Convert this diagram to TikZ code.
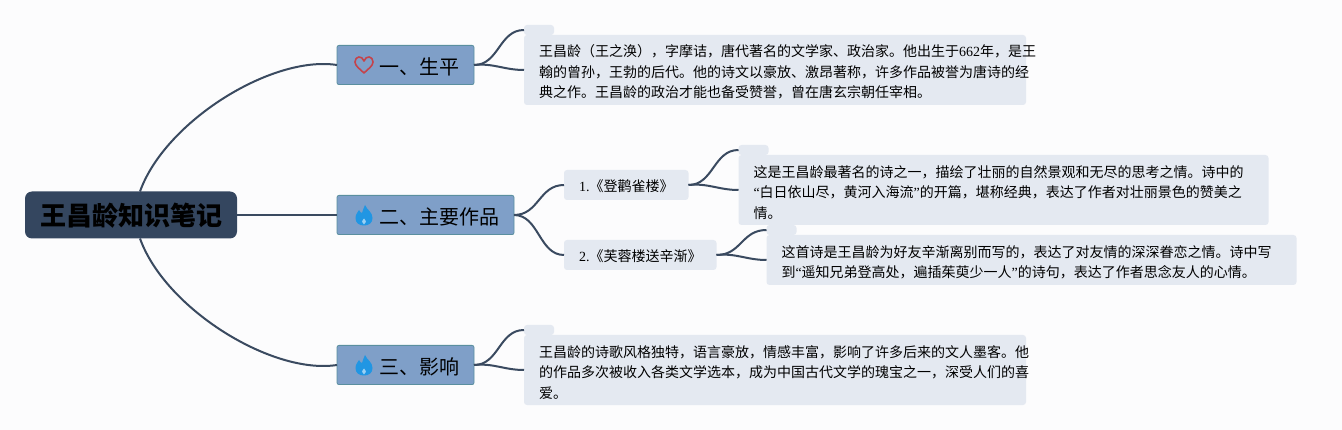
\documentclass[tikz,border=0pt]{standalone}
\usepackage{fontspec}
\setmainfont{Noto Sans CJK SC}
\newfontfamily\latfont{Liberation Serif}
\newcommand{\lat}[1]{{\latfont #1}}
\usetikzlibrary{positioning, calc}
\definecolor{pagebg}{HTML}{FCFCFD}
\definecolor{rootfill}{HTML}{34465F}
\definecolor{branchfill}{HTML}{7F9FC8}
\definecolor{branchedge}{HTML}{5A8F9F}
\definecolor{notefill}{HTML}{E4E9F1}
\definecolor{linkcolor}{HTML}{3A4A60}
\definecolor{heartred}{HTML}{C4434B}
\definecolor{flameblue}{HTML}{2196E3}
\begin{document}
\begin{tikzpicture}[
          x=1pt, y=-1pt,
          rootbox/.style={
              rectangle, fill=rootfill, rounded corners=7pt, inner sep=0pt,
              minimum width=212pt, minimum height=47pt, outer sep=0pt,
              text height=24pt, text depth=2.2pt,
              font=\fontsize{26}{30}\selectfont\bfseries
          },
          branch/.style={
              rectangle, draw=branchedge, fill=branchfill, line width=0.8pt,
              rounded corners=2pt, inner xsep=14.5pt, inner ysep=0pt, outer sep=0pt,
              minimum height=39.2pt, text height=21pt, text depth=2pt,
              font=\fontsize{20}{24}\selectfont
          },
          subtopic/.style={
              rectangle, fill=notefill, rounded corners=3pt, outer sep=0pt,
              inner xsep=15pt, inner ysep=0pt, minimum height=30pt,
              text height=14.6pt, text depth=2pt,
              font=\fontsize{14}{18}\selectfont
          },
          note/.style={
              rectangle, fill=notefill, rounded corners=3pt, align=left, outer sep=0pt,
              inner xsep=15pt, inner ysep=0pt, text width=#1,
              font=\fontsize{14}{20.5}\selectfont,
              execute at begin node={\rule{0pt}{16.5pt}}
          },
          notetab/.style={
              rectangle, fill=notefill, rounded corners=3pt, inner sep=0pt, outer sep=0pt,
              minimum width=30pt, minimum height=10pt, anchor=south west
          },
          link/.style={draw=linkcolor, line width=2pt},
          flameicon/.pic={
              \fill [flameblue] (1,-10) .. controls (3,-5) and (8.5,-3) .. (8.5,3)
                  .. controls (8.5,8) and (5,10.5) .. (0,10.5)
                  .. controls (-5,10.5) and (-8.5,8) .. (-8.5,3)
                  .. controls (-8.5,-1) and (-6,-3) .. (-5,-5)
                  .. controls (-4,-3) and (-3,-2) .. (-2,-2)
                  .. controls (-1,-5) and (0,-8) .. (1,-10) -- cycle;
              \fill [flameblue!45!white] (0,9.5) .. controls (-2.5,8) and (-2.5,6) .. (0,3.5)
                  .. controls (2.5,6) and (2.5,8) .. (0,9.5) -- cycle;
          },
          hearticon/.pic={
              \draw [heartred, line width=1.6pt, line join=round] (0,8)
                  .. controls (-4,4) and (-9,1) .. (-9,-3)
                  .. controls (-9,-9) and (-2,-10) .. (0,-4)
                  .. controls (2,-10) and (9,-9) .. (9,-3)
                  .. controls (9,1) and (4,4) .. (0,8) -- cycle;
          },
      ]
          \fill [pagebg] (0,0) rectangle (1342,430);

          % Root and main branches
          \node [rootbox] (root) at (131,215) {王昌龄知识笔记};
          \node [branch, right=100pt of root] (works) {\hspace*{28pt}二、主要作品};
          \node [branch, right=100pt of root, yshift=150pt] (life) {\hspace*{28pt}一、生平};
          \node [branch, right=100pt of root, yshift=-150pt] (impact) {\hspace*{28pt}三、影响};
          \pic at ($(life.west)+(27,0)$) {hearticon};
          \pic at ($(works.west)+(27,0)$) {flameicon};
          \pic at ($(impact.west)+(27,0)$) {flameicon};

          % Poems
          \node [subtopic, right=50pt of works, yshift=30pt] (poem1) {\lat{1.}《登鹳雀楼》};
          \node [subtopic, right=50pt of works, yshift=-40pt] (poem2) {\lat{2.}《芙蓉楼送辛渐》};

          % Notes
          \node [note=472pt, minimum height=70pt, right=50pt of life, yshift=-5pt] (lifenote) {王昌龄（王之涣），字摩诘，唐代著名的文学家、政治家。他出生于\lat{662}年，是王\\翰的曾孙，王勃的后代。他的诗文以豪放、激昂著称，许多作品被誉为唐诗的经\\典之作。王昌龄的政治才能也备受赞誉，曾在唐玄宗朝任宰相。};
          \node [note=500pt, minimum height=70pt, right=50pt of poem1, yshift=-5pt] (poem1note) {这是王昌龄最著名的诗之一，描绘了壮丽的自然景观和无尽的思考之情。诗中的\\\lat{“}白日依山尽，黄河入海流\lat{”}的开篇，堪称经典，表达了作者对壮丽景色的赞美之\\情。};
          \node [note=500pt, minimum height=50pt, right=50pt of poem2, yshift=-5pt] (poem2note) {这首诗是王昌龄为好友辛渐离别而写的，表达了对友情的深深眷恋之情。诗中写\\到\lat{“}遥知兄弟登高处，遍插茱萸少一人\lat{”}的诗句，表达了作者思念友人的心情。};
          \node [note=472pt, minimum height=70pt, right=50pt of impact, yshift=-5pt] (impactnote) {王昌龄的诗歌风格独特，语言豪放，情感丰富，影响了许多后来的文人墨客。他\\的作品多次被收入各类文学选本，成为中国古代文学的瑰宝之一，深受人们的喜\\爱。};
          \node [notetab] (lifetab) at (lifenote.north west) {};
          \node [notetab] (poem1tab) at (poem1note.north west) {};
          \node [notetab] (poem2tab) at (poem2note.north west) {};
          \node [notetab] (impacttab) at (impactnote.north west) {};

          % Links
          \draw [link] (root.east) -- (works.west);
          \draw [link] ($(root.north)+(9,0)$) .. controls +(25,-70) and +(-65,-10) .. (life.west);
          \draw [link] ($(root.south)+(9,0)$) .. controls +(25,70) and +(-65,10) .. (impact.west);
          \draw [link] (life.east) .. controls +(25,0) and +(-25,0) .. (lifetab.west);
          \draw [link] (life.east) .. controls +(20,-2) and +(-20,0) .. (lifenote.west);
          \draw [link] (works.east) .. controls +(25,0) and +(-25,0) .. (poem1.west);
          \draw [link] (works.east) .. controls +(25,0) and +(-25,0) .. (poem2.west);
          \draw [link] (poem1.east) .. controls +(25,0) and +(-25,0) .. (poem1tab.west);
          \draw [link] (poem1.east) .. controls +(20,-2) and +(-20,0) .. (poem1note.west);
          \draw [link] (poem2.east) .. controls +(25,0) and +(-25,0) .. (poem2tab.west);
          \draw [link] (poem2.east) .. controls +(20,-2) and +(-20,0) .. (poem2note.west);
          \draw [link] (impact.east) .. controls +(25,0) and +(-25,0) .. (impacttab.west);
          \draw [link] (impact.east) .. controls +(20,-2) and +(-20,0) .. (impactnote.west);
        \end{tikzpicture}
\end{document}
